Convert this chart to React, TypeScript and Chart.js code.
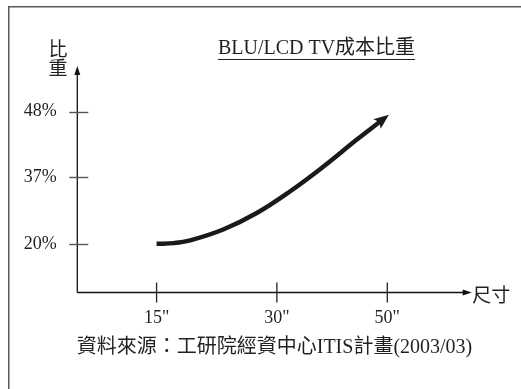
import React, { useEffect, useRef } from 'react';
import { Chart, registerables } from 'chart.js';

Chart.register(...registerables);

const titleText = 'BLU/LCD TV成本比重';
const sourceText = '資料來源：工研院經資中心ITIS計畫(2003/03)';
const yAxisTitle = ['比', '重'];
const xAxisTitle = '尺寸';

// schematic axis units (0-100 along each axis)
const xTickLabels = ['15"', '30"', '50"'];
const xTickPos = [20.1, 50.6, 78.6];
const yTickLabels = ['20%', '37%', '48%'];
const yTickPos = [21.5, 51.0, 79.9];

// the trend curve (size position, share position)
const curveX = [20.1, 24.5, 28.6, 37.0, 45.5, 53.9, 62.4, 70.8, 76.8];
const curveY = [21.5, 21.8, 23.0, 27.8, 35.1, 44.6, 55.6, 67.4, 75.5];

const SERIF = "'Liberation Serif', 'Noto Sans CJK TC', serif";
const CJK = "'Noto Sans CJK TC', sans-serif";
const TEXT = '#231f20';

const decorPlugin = {
  id: 'decor',
  afterDatasetsDraw(chart: any) {
    const { ctx, chartArea, scales } = chart;
    const xs = scales.x;
    const ys = scales.y;
    const left = chartArea.left;
    const bottom = chartArea.bottom;
    const top = chartArea.top;
    const right = chartArea.right;
    ctx.save();

    // outer frame (top & left only visible)
    ctx.strokeStyle = '#5a5a5a';
    ctx.lineWidth = 1.5;
    ctx.beginPath();
    ctx.moveTo(8.75, 400);
    ctx.lineTo(8.75, 6.75);
    ctx.lineTo(540, 6.75);
    ctx.stroke();

    // axes
    ctx.strokeStyle = '#111';
    ctx.fillStyle = '#111';
    ctx.lineWidth = 1.3;
    ctx.beginPath();
    ctx.moveTo(left, bottom);
    ctx.lineTo(left, top + 8);
    ctx.moveTo(left, bottom);
    ctx.lineTo(right - 8, bottom);
    ctx.stroke();
    // y arrow
    ctx.beginPath();
    ctx.moveTo(left, top);
    ctx.lineTo(left - 3, top + 9);
    ctx.lineTo(left + 3, top + 9);
    ctx.closePath();
    ctx.fill();
    // x arrow
    ctx.beginPath();
    ctx.moveTo(right, bottom);
    ctx.lineTo(right - 9, bottom - 3);
    ctx.lineTo(right - 9, bottom + 3);
    ctx.closePath();
    ctx.fill();

    // y tick marks
    ctx.strokeStyle = '#555';
    ctx.lineWidth = 1.4;
    yTickPos.forEach((v) => {
      const py = Math.round(ys.getPixelForValue(v)) + 0.5;
      ctx.beginPath();
      ctx.moveTo(left - 8, py);
      ctx.lineTo(left + 11, py);
      ctx.stroke();
    });
    // x tick marks
    ctx.strokeStyle = '#222';
    ctx.lineWidth = 1.3;
    xTickPos.forEach((v) => {
      const px = xs.getPixelForValue(v);
      ctx.beginPath();
      ctx.moveTo(px, bottom - 10);
      ctx.lineTo(px, bottom + 10);
      ctx.stroke();
    });

    // curve arrowhead
    const n = curveX.length;
    const bx = xs.getPixelForValue(curveX[n - 1]);
    const by = ys.getPixelForValue(curveY[n - 1]);
    const ax = xs.getPixelForValue(curveX[n - 2]);
    const ay = ys.getPixelForValue(curveY[n - 2]);
    const d = Math.hypot(bx - ax, by - ay);
    const ux = (bx - ax) / d;
    const uy = (by - ay) / d;
    const len = 15;
    const hw = 6;
    const tx = bx + ux * (len - 4);
    const ty = by + uy * (len - 4);
    const baseX = tx - ux * len;
    const baseY = ty - uy * len;
    ctx.fillStyle = '#1a1a1a';
    ctx.beginPath();
    ctx.moveTo(tx, ty);
    ctx.lineTo(baseX - uy * hw, baseY + ux * hw);
    ctx.lineTo(tx - ux * (len - 3), ty - uy * (len - 3));
    ctx.lineTo(baseX + uy * hw, baseY - ux * hw);
    ctx.closePath();
    ctx.fill();

    // title with underline
    ctx.fillStyle = TEXT;
    ctx.font = `20px ${SERIF}`;
    ctx.textBaseline = 'middle';
    ctx.textAlign = 'center';
    const tcx = 316.5;
    ctx.fillText(titleText, tcx, 49);
    const tw = ctx.measureText(titleText).width;
    ctx.strokeStyle = TEXT;
    ctx.lineWidth = 1;
    ctx.beginPath();
    ctx.moveTo(tcx - tw / 2, 59.5);
    ctx.lineTo(tcx + tw / 2, 59.5);
    ctx.stroke();

    // y axis title (vertical)
    ctx.font = `19px ${CJK}`;
    ctx.fillText(yAxisTitle[0], 58, 49);
    ctx.fillText(yAxisTitle[1], 58, 68);

    // x axis title
    ctx.textAlign = 'left';
    ctx.fillText(xAxisTitle, right + 0.5, 295);

    // source
    ctx.textAlign = 'center';
    ctx.font = `20px ${SERIF}`;
    ctx.fillText(sourceText, 274.5, 348);

    ctx.restore();
  },
};

export default function App() {
  const ref = useRef<HTMLCanvasElement | null>(null);
  useEffect(() => {
    document.body.style.margin = '0';
    const canvas = ref.current;
    if (!canvas) return;
    const chart = new Chart(canvas, {
      type: 'line',
      data: {
        datasets: [
          {
            data: curveX.map((x, i) => ({ x, y: curveY[i] })),
            borderColor: '#1a1a1a',
            borderWidth: 4.5,
            borderCapStyle: 'butt',
            pointRadius: 0,
            tension: 0.4,
            cubicInterpolationMode: 'default',
            fill: false,
          },
        ],
      },
      options: {
        responsive: false,
        animation: false,
        events: [],
        layout: { padding: { top: 66, right: 49.3, left: 0, bottom: 0 } },
        plugins: {
          legend: { display: false },
          tooltip: { enabled: false },
          title: { display: false },
        },
        scales: {
          x: {
            type: 'linear',
            min: 0,
            max: 100,
            grid: { display: false, drawTicks: false },
            border: { display: false },
            afterBuildTicks: (s: any) => {
              s.ticks = xTickPos.map((v) => ({ value: v }));
            },
            afterFit: (s: any) => {
              s.height = 389 - 292.5;
            },
            ticks: {
              autoSkip: false,
              maxRotation: 0,
              padding: 14.7,
              color: TEXT,
              font: { family: SERIF, size: 18 },
              callback: (_v: any, i: number) => xTickLabels[i],
            },
          },
          y: {
            type: 'linear',
            min: 0,
            max: 100,
            grid: { display: false, drawTicks: false },
            border: { display: false },
            afterBuildTicks: (s: any) => {
              s.ticks = yTickPos.map((v) => ({ value: v }));
            },
            afterFit: (s: any) => {
              s.width = 77.3;
            },
            ticks: {
              autoSkip: false,
              padding: 20.5,
              color: TEXT,
              font: { family: SERIF, size: 18 },
              callback: (_v: any, i: number) => yTickLabels[i],
            },
          },
        },
      },
      plugins: [decorPlugin],
    } as any);
    return () => chart.destroy();
  }, []);
  return (
    <div style={{ width: 521, height: 389 }}>
      <canvas ref={ref} width={521} height={389} style={{ display: 'block' }} />
    </div>
  );
}
